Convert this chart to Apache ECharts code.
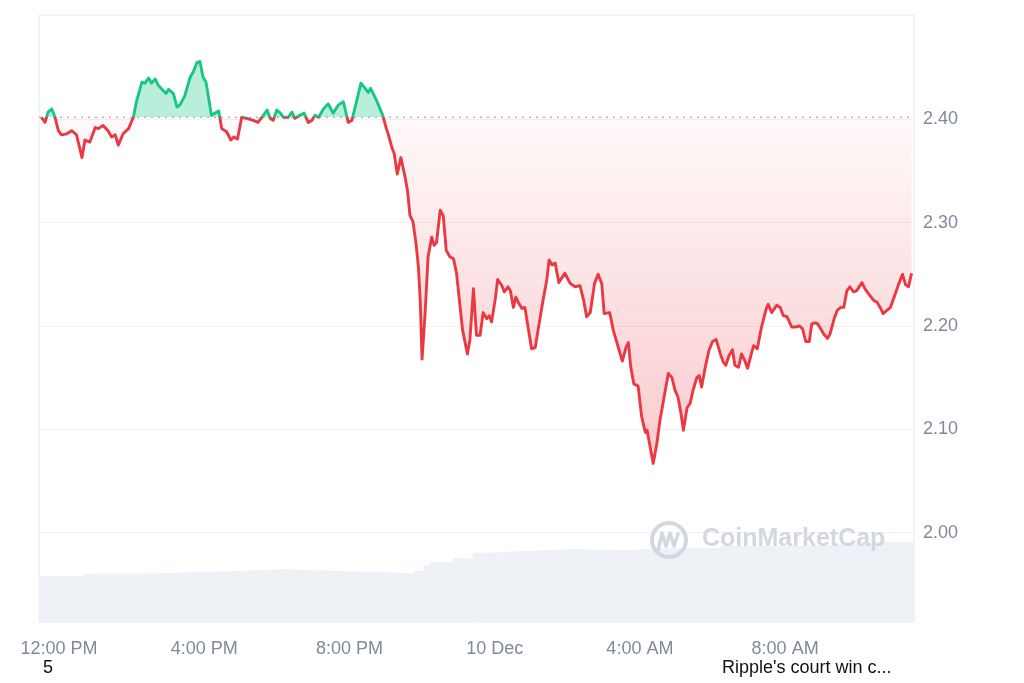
<!DOCTYPE html>
<html><head><meta charset="utf-8">
<script src="https://cdn.jsdelivr.net/npm/echarts@6/dist/echarts.min.js"></script>
<style>html,body{margin:0;padding:0;background:#fff}#c{width:1024px;height:683px}</style>
</head><body><div id="c"></div>
<script>
// x values: minutes since 9 Dec 00:00
const tickValues = [720, 960, 1200, 1440, 1680, 1920];
const tickLabels = ['12:00 PM', '4:00 PM', '8:00 PM', '10 Dec', '4:00 AM', '8:00 AM'];
const priceTicks = [2.00, 2.10, 2.20, 2.30, 2.40];
const openPrice = 2.402;
const footLeft = '5';
const footRight = "Ripple's court win c...";
const watermark = 'CoinMarketCap';

const times = [
 691,697,702,708,713,719,724,733,741,749,
 758,763,771,780,785,793,801,807,813,818,
 826,835,843,848,857,862,868,873,879,884,
 892,897,901,909,915,920,928,937,942,948,
 953,958,963,972,978,984,989,997,1004,1009,
 1015,1022,1030,1041,1049,1058,1064,1069,1074,1080,
 1086,1091,1099,1105,1110,1118,1125,1132,1138,1143,
 1149,1157,1165,1173,1182,1190,1198,1204,1212,1219,
 1226,1231,1235,1245,1255,1261,1264,1270,1274,1279,
 1285,1292,1296,1300,1305,1310,1314,1317,1320,1325,
 1330,1336,1340,1344,1350,1355,1360,1366,1372,1377,
 1383,1387,1395,1399,1405,1410,1416,1421,1427,1431,
 1435,1441,1445,1452,1456,1462,1466,1471,1475,1479,
 1485,1490,1496,1501,1507,1512,1520,1526,1530,1535,
 1540,1546,1556,1565,1573,1581,1587,1592,1598,1605,
 1611,1617,1621,1630,1636,1645,1651,1657,1661,1665,
 1670,1677,1683,1689,1692,1697,1702,1708,1713,1719,
 1727,1733,1738,1743,1748,1752,1758,1763,1768,1774,
 1778,1782,1788,1794,1800,1806,1813,1818,1822,1827,
 1833,1837,1843,1848,1853,1858,1865,1868,1874,1881,
 1889,1892,1898,1906,1912,1917,1923,1931,1937,1944,
 1949,1954,1960,1964,1970,1974,1979,1984,1990,1994,
 2001,2006,2012,2017,2022,2027,2033,2038,2047,2052,
 2058,2066,2072,2077,2082,2088,2094,2102,2108,2114,
 2119,2124,2129
];
const prices = [
 2.402,2.397,2.407,2.410,2.403,2.389,2.385,2.386,2.389,2.385,
 2.363,2.380,2.378,2.392,2.391,2.394,2.389,2.383,2.385,2.375,
 2.386,2.391,2.402,2.417,2.436,2.435,2.440,2.435,2.439,2.433,
 2.428,2.425,2.429,2.425,2.412,2.414,2.423,2.441,2.446,2.455,
 2.456,2.441,2.436,2.404,2.406,2.408,2.391,2.388,2.380,2.383,
 2.381,2.402,2.401,2.399,2.397,2.404,2.409,2.401,2.399,2.409,
 2.406,2.402,2.402,2.407,2.401,2.404,2.406,2.397,2.399,2.404,
 2.402,2.410,2.415,2.406,2.414,2.417,2.397,2.399,2.418,2.435,
 2.430,2.426,2.430,2.418,2.404,2.391,2.386,2.373,2.367,2.347,
 2.363,2.344,2.331,2.307,2.301,2.280,2.257,2.225,2.168,2.212,
 2.267,2.286,2.278,2.281,2.312,2.307,2.273,2.267,2.265,2.251,
 2.218,2.196,2.173,2.186,2.236,2.191,2.191,2.213,2.207,2.210,
 2.204,2.226,2.245,2.239,2.233,2.238,2.234,2.218,2.228,2.223,
 2.217,2.218,2.196,2.178,2.179,2.197,2.225,2.244,2.264,2.259,
 2.261,2.242,2.251,2.241,2.238,2.239,2.225,2.209,2.213,2.241,
 2.250,2.241,2.212,2.213,2.196,2.178,2.166,2.179,2.184,2.160,
 2.144,2.142,2.112,2.097,2.099,2.083,2.067,2.086,2.108,2.128,
 2.154,2.150,2.138,2.131,2.115,2.099,2.121,2.125,2.138,2.150,
 2.152,2.141,2.160,2.176,2.185,2.187,2.173,2.165,2.162,2.171,
 2.177,2.162,2.160,2.173,2.167,2.159,2.175,2.181,2.178,2.199,
 2.217,2.221,2.213,2.220,2.218,2.210,2.209,2.199,2.199,2.200,
 2.197,2.185,2.185,2.202,2.203,2.202,2.197,2.192,2.188,2.192,
 2.207,2.215,2.218,2.218,2.234,2.238,2.233,2.234,2.242,2.236,
 2.231,2.225,2.223,2.218,2.212,2.215,2.218,2.231,2.241,2.250,
 2.240,2.238,2.251
];
// 24h volume (billions USD, approx)
const volTimes = [687,761,851,943,1029,1095,1165,1262,1307,1322,1333,1371,1404,1431,1490,1566,1664,1713,1813,1945,2044,2133];
const volValues = [9.15,9.55,9.83,10.14,10.48,10.14,9.83,9.63,10.08,11.27,11.92,12.59,13.70,14.04,14.43,14.23,14.57,14.63,15.03,15.42,15.82,15.82];

const chart = echarts.init(document.getElementById('c'), null, {renderer: 'canvas'});
const pts = times.map((t, i) => [t, prices[i]]);
const vol = volTimes.map((t, i) => [t, volValues[i]]);
const xMin = 687, xMax = 2133;
const baseLine = [[xMin, openPrice], [xMax, openPrice]];
const RED = '#ea3943', GREEN = '#16c784';
const FONT = '"Liberation Sans", Arial, Helvetica, sans-serif';

const fillPieces = [{gt: openPrice, lte: 5, color: 'rgba(22,199,132,0.30)'}];
const lo = 2.05, steps = 70;
for (let i = 0; i < steps; i++) {
  const top = openPrice - (openPrice - lo) * i / steps;
  const bot = openPrice - (openPrice - lo) * (i + 1) / steps;
  const a = 0.03 + 0.25 * (i + 0.5) / steps;
  fillPieces.push({gt: bot, lte: top, color: 'rgba(234,57,67,' + a.toFixed(3) + ')'});
}
fillPieces.push({gt: 0, lte: lo, color: 'rgba(234,57,67,0.28)'});

const lineBase = {type: 'line', xAxisIndex: 0, yAxisIndex: 0, symbol: 'none', silent: true};

const option = {
  animation: false,
  backgroundColor: '#fff',
  grid: [
    {left: 39, right: 110, top: 16, height: 620, show: false},
    {left: 39, right: 110, top: 15, bottom: 61, show: true, borderColor: '#e6e8ec', borderWidth: 1, backgroundColor: 'transparent'}
  ],
  xAxis: [
    {type: 'value', gridIndex: 0, min: xMin, max: xMax,
     axisLine: {show: false}, axisTick: {show: false}, splitLine: {show: false},
     axisLabel: {customValues: tickValues, formatter: v => { const k = tickValues.indexOf(v); return k >= 0 ? tickLabels[k] : ''; },
       color: '#808a9d', fontSize: 18, fontFamily: FONT, margin: 4}},
    {type: 'value', gridIndex: 1, min: xMin, max: xMax, show: false}
  ],
  yAxis: [
    {type: 'value', gridIndex: 0, position: 'right', min: 1.9, max: 2.5, interval: 0.1,
     axisLine: {show: false}, axisTick: {show: false},
     splitLine: {show: true, showMinLine: false, showMaxLine: false, lineStyle: {color: '#eff1f4', width: 1}},
     axisLabel: {color: '#808a9d', fontSize: 18, fontFamily: FONT, margin: 9,
       formatter: v => priceTicks.some(p => Math.abs(p - v) < 1e-6) ? v.toFixed(2) : ''}},
    {type: 'value', gridIndex: 1, min: 0, max: 120, show: false}
  ],
  visualMap: [
    {type: 'piecewise', show: false, seriesIndex: 1, dimension: 1, pieces: fillPieces},
    {type: 'piecewise', show: false, seriesIndex: 3, dimension: 1,
     pieces: [{gt: openPrice, lte: 5, color: GREEN}, {gt: 0, lte: openPrice, color: RED}]}
  ],
  series: [
    {type: 'line', name: 'Volume', xAxisIndex: 1, yAxisIndex: 1, data: vol, step: 'end', symbol: 'none',
     lineStyle: {width: 0, color: '#eef1f5'}, areaStyle: {color: '#eef1f5', opacity: 1}, z: 1, silent: true},
    Object.assign({}, lineBase, {name: 'Fill', data: pts, lineStyle: {width: 0, opacity: 0},
     areaStyle: {origin: openPrice, opacity: 1}, z: 2}),
    Object.assign({}, lineBase, {name: 'Open', data: baseLine,
     lineStyle: {type: [2, 5], color: '#8f98a8', width: 1}, z: 3}),
    Object.assign({}, lineBase, {name: 'Price', data: pts, lineStyle: {width: 2.9, join: 'round'}, z: 4})
  ],
  graphic: [
    {type: 'circle', shape: {cx: 669, cy: 540, r: 17}, style: {fill: 'none', stroke: '#d3d8e0', lineWidth: 4}, z: 10, silent: true},
    {type: 'polyline', shape: {points: [[658, 551], [662, 533], [666, 546], [670, 533], [674, 546], [678, 534]]},
     style: {fill: 'none', stroke: '#d3d8e0', lineWidth: 3.5, lineJoin: 'round', lineCap: 'round'}, z: 10, silent: true},
    {type: 'text', left: 702, top: 527, style: {text: watermark, fill: '#d3d8e0', font: 'bold 25px ' + FONT}, z: 10, silent: true},
    {type: 'text', left: 43, top: 659, style: {text: footLeft, fill: '#111', font: '18px ' + FONT}, silent: true},
    {type: 'text', left: 722, top: 659, style: {text: footRight, fill: '#111', font: '18px ' + FONT}, silent: true}
  ]
};
chart.setOption(option);
</script>
</body></html>
